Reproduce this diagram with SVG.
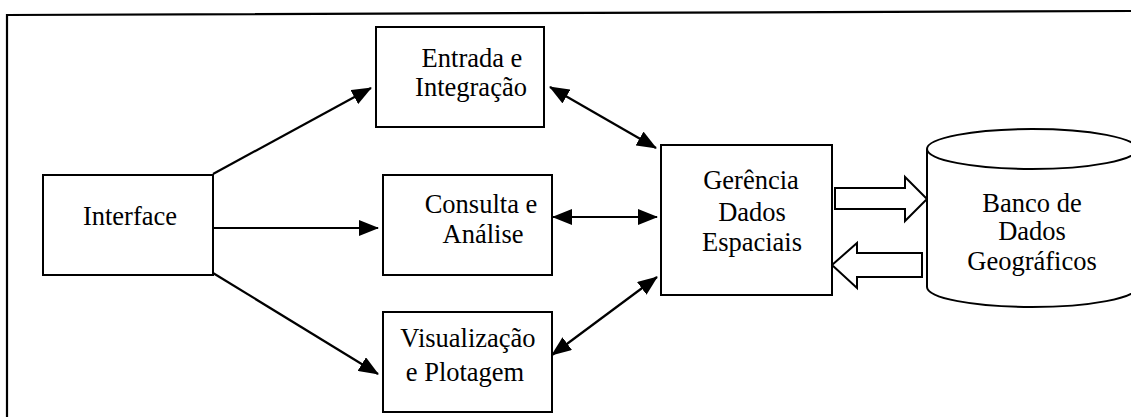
<svg xmlns="http://www.w3.org/2000/svg" width="1131" height="417" viewBox="0 0 1131 417">
<style>
.box{fill:#fff;stroke:#000;stroke-width:2}
.t{font-family:"Liberation Serif","Times New Roman",serif;font-size:26.5px;fill:#000;text-anchor:middle}
.c{stroke:#000;stroke-width:2.2;fill:none}
.blk{fill:#fff;stroke:#000;stroke-width:2;stroke-linejoin:miter}
</style>
<defs>
<marker id="ah" viewBox="0 0 20 16" refX="19" refY="8" markerWidth="20" markerHeight="16" markerUnits="userSpaceOnUse" orient="auto-start-reverse">
<path d="M0,0 L20,8 L0,16 Z" fill="#000"/>
</marker>
</defs>
<rect width="1131" height="417" fill="#fff"/>
<g id="frame">
<path class="c" d="M7,417 L7,15 L1131,11"/>
</g>
<g id="connectors">
<line class="c" x1="213" y1="174" x2="371" y2="88" marker-end="url(#ah)"/>
<line class="c" x1="213" y1="228" x2="378" y2="228" marker-end="url(#ah)"/>
<line class="c" x1="213" y1="273" x2="378" y2="374" marker-end="url(#ah)"/>
<line class="c" x1="550" y1="87" x2="656" y2="148" marker-start="url(#ah)" marker-end="url(#ah)"/>
<line class="c" x1="553" y1="217" x2="657" y2="217" marker-start="url(#ah)" marker-end="url(#ah)"/>
<line class="c" x1="552" y1="355" x2="657" y2="277" marker-start="url(#ah)" marker-end="url(#ah)"/>
<path class="blk" d="M835,188 L905,188 L905,177 L927,199 L905,221 L905,209 L835,209 Z"/>
<path class="blk" d="M922,253 L857,253 L857,243 L832,265 L857,288 L857,277 L922,277 Z"/>
</g>
<g id="interface">
<rect class="box" x="43" y="175" width="170" height="100"/>
<text class="t" x="130" y="225">Interface</text>
</g>
<g id="entrada">
<rect class="box" x="376" y="27" width="168" height="100"/>
<text class="t" x="472" y="67">Entrada e</text>
<text class="t" x="471" y="96">Integração</text>
</g>
<g id="consulta">
<rect class="box" x="383" y="175" width="169" height="100"/>
<text class="t" x="481" y="213">Consulta e</text>
<text class="t" x="483" y="243">Análise</text>
</g>
<g id="visualizacao">
<rect class="box" x="383" y="312" width="169" height="100"/>
<text class="t" x="468" y="347">Visualização</text>
<text class="t" x="465" y="381">e Plotagem</text>
</g>
<g id="gerencia">
<rect class="box" x="661" y="145" width="171" height="150"/>
<text class="t" x="751" y="189">Gerência</text>
<text class="t" x="752" y="221">Dados</text>
<text class="t" x="752" y="251">Espaciais</text>
</g>
<g id="banco">
<path class="box" d="M927,149 L927,287 A105,20 0 0 0 1137,287 L1137,149"/>
<ellipse class="box" cx="1032" cy="149" rx="105" ry="20"/>
<text class="t" x="1032" y="212">Banco de</text>
<text class="t" x="1032" y="240">Dados</text>
<text class="t" x="1032" y="270">Geográficos</text>
</g>
</svg>
